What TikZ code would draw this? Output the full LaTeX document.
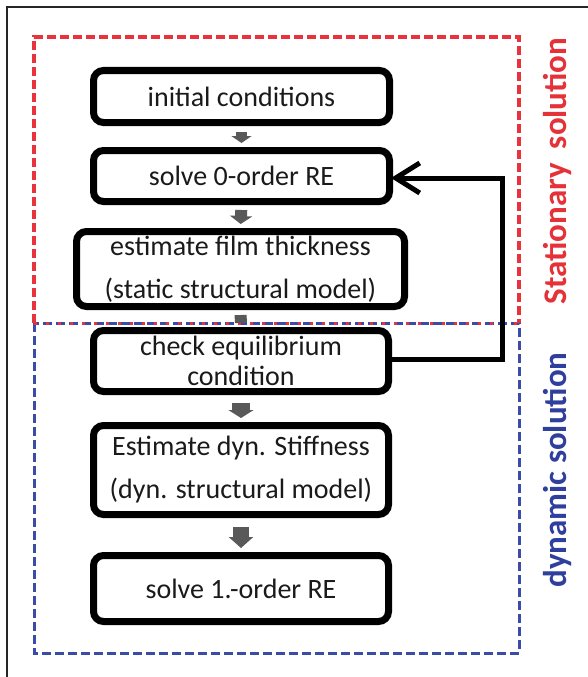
\documentclass[tikz,border=0pt]{standalone}
\usepackage{fontspec}
\setmainfont{Carlito}
\usetikzlibrary{arrows.meta}
\definecolor{redd}{HTML}{E8323C}
\definecolor{bluedash}{HTML}{3B4BA8}
\definecolor{redtxt}{HTML}{E53238}
\definecolor{bluetxt}{HTML}{2F3F9E}
\definecolor{arrgray}{HTML}{595959}
\definecolor{txt}{HTML}{1A1A1A}
\tikzset{
  stepbox/.style={draw=black, line width=7pt, rounded corners=10pt, fill=white,
    text=txt, align=center, inner sep=0pt, font=\fontsize{28}{34}\selectfont},
  garrow/.style={draw=arrgray, line cap=butt},
  fb/.style={draw=black, line width=5pt, line join=miter, -{Straight Barb[length=24pt,width=30pt]}},
  sidelabel/.style={rotate=90, font=\bfseries\fontsize{33}{36}\selectfont, inner sep=0pt},
}
\begin{document}
\begin{tikzpicture}[x=1pt,y=-1pt]
\useasboundingbox (0,0) rectangle (588,677);
\fill[white] (0,0) rectangle (588,677);
% outer frame (top and left edges visible)
\draw[line width=2.5pt, black!85] (7,677) -- (7,7) -- (588,7);
% dashed regions
\draw[bluedash, line width=3pt, dash pattern=on 9pt off 4pt] (34,323) rectangle (519,653);
\draw[redd, line width=3.5pt, dash pattern=on 9pt off 4pt] (34,323) -- (34,37) -- (519,37) -- (519,323);
\draw[redd, line width=3pt, dash pattern=on 3pt off 9pt] (34,323) -- (519,323);
% boxes
\node[stepbox, minimum width=296pt, minimum height=52pt] (b1) at (241.5,96.5) {initial conditions};
\node[stepbox, minimum width=296pt, minimum height=51pt] (b2) at (241.5,176) {solve 0-order RE};
\node[stepbox, minimum width=328pt, minimum height=75pt, font=\fontsize{28}{43}\selectfont] (b3) at (240.5,269) {estimate film thickness\\(static structural model)};
\node[stepbox, minimum width=295pt, minimum height=61pt, font=\fontsize{28}{30}\selectfont] (b4) at (241,361) {check equilibrium\\condition};
\node[stepbox, minimum width=295pt, minimum height=89pt, font=\fontsize{28}{43}\selectfont] (b5) at (241,470) {Estimate dyn. Stiffness\\(dyn. structural model)};
\node[stepbox, minimum width=295pt, minimum height=66pt] (b6) at (241,588.5) {solve 1.-order RE};
% gray block arrows
\draw[garrow, line width=11pt, -{Triangle[length=7pt,width=20pt]}, shorten <=6pt, shorten >=4pt] (b1.south) -- (b2.north);
\draw[garrow, line width=12pt, -{Triangle[length=8pt,width=22pt]}, shorten <=5pt, shorten >=4pt] (b2.south) -- (b3.north);
\draw[garrow, line width=12pt, shorten <=5pt, shorten >=4pt] (b3.south) -- (b4.north);
\draw[garrow, line width=18pt, -{Triangle[length=8pt,width=25pt]}, shorten <=8pt, shorten >=4pt] (b4.south) -- (b5.north);
\draw[garrow, line width=16pt, -{Triangle[length=11pt,width=24pt]}, shorten <=9pt, shorten >=4pt] (b5.south) -- (b6.north);
% feedback loop
\coordinate (c1) at (502,359);
\coordinate (c2) at (502,178);
\draw[fb, shorten >=-2pt] (b4.east |- c1) -- (c1) -- (c2) -- (b2.east |- c2);
% side labels
\node[sidelabel, text=redtxt] (lab1) at (557,171) {Stationary\hspace{14pt}solution};
\node[sidelabel, text=bluetxt] (lab2) at (557,470) {dynamic solution};
\end{tikzpicture}
\end{document}
